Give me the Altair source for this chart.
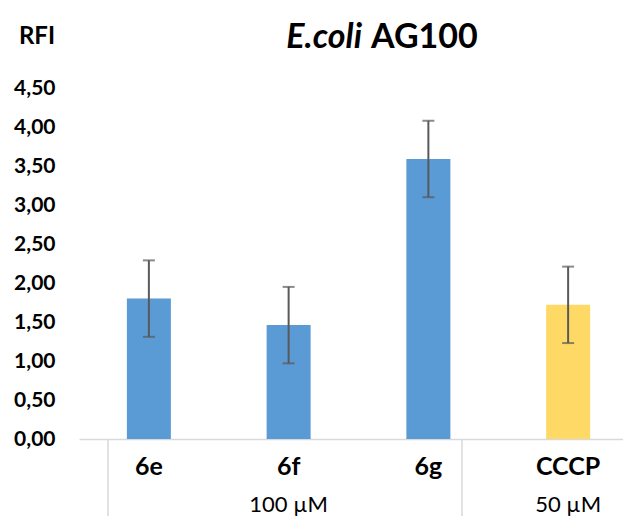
import altair as alt
import pandas as pd

categories = ["6e", "6f", "6g", "CCCP"]
means = [1.80, 1.46, 3.59, 1.72]
errors = [0.49, 0.49, 0.49, 0.49]
colors = ["#5B9BD5", "#5B9BD5", "#5B9BD5", "#FFD966"]
sub_labels = ["", "100 µM", "", "50 µM"]
y_ticks = [0, 0.5, 1.0, 1.5, 2.0, 2.5, 3.0, 3.5, 4.0, 4.5]

df = pd.DataFrame({
    "cat": categories,
    "mean": means,
    "lo": [m - e for m, e in zip(means, errors)],
    "hi": [m + e for m, e in zip(means, errors)],
    "color": colors,
    "sub": sub_labels,
})

FONT = "Lato"
W, H = 544, 351

xscale = alt.Scale(domain=categories, range=[0, 559], paddingInner=0, paddingOuter=0)
yscale = alt.Scale(domain=[0, 4.5], nice=False, zero=True)

x_enc = alt.X("cat:N", scale=xscale, sort=categories,
              axis=alt.Axis(title=None, labelAngle=0, ticks=False, domain=True,
                            domainColor="#d9d9d9", domainWidth=1.5,
                            labelFont=FONT, labelFontWeight="bold", labelFontSize=25,
                            labelColor="#000000", labelPadding=15))

base = alt.Chart(df)

bars = base.mark_bar(size=44).encode(
    x=x_enc,
    y=alt.Y("mean:Q", scale=yscale,
            axis=alt.Axis(title=None, values=y_ticks, grid=False, ticks=False, domain=False,
                          labelOverlap=False,
                          labelExpr="replace(format(datum.value, '.2f'), '.', ',')",
                          labelFont=FONT, labelFontWeight="bold", labelFontSize=21,
                          labelColor="#000000", labelPadding=24)),
    color=alt.Color("color:N", scale=None),
)

xn = alt.X("cat:N", scale=xscale, sort=categories, axis=None)

err = base.mark_rule(color="#595959", strokeWidth=2).encode(
    x=xn,
    y=alt.Y("lo:Q", scale=yscale, axis=None),
    y2="hi:Q",
)
cap_lo = base.mark_tick(color="#595959", size=12, thickness=2).encode(
    x=xn,
    y=alt.Y("lo:Q", scale=yscale, axis=None),
)
cap_hi = base.mark_tick(color="#595959", size=12, thickness=2).encode(
    x=xn,
    y=alt.Y("hi:Q", scale=yscale, axis=None),
)

subs = base.mark_text(font=FONT, fontSize=22, color="#000000", baseline="middle").encode(
    x=xn,
    y=alt.value(H + 66),
    text="sub:N",
)

sep_df = pd.DataFrame({"k": ["a"]})
sep1 = alt.Chart(sep_df).mark_rule(color="#d9d9d9", strokeWidth=1.5).encode(
    x=alt.value(29), y=alt.value(H), y2=alt.value(H + 78))
sep2 = alt.Chart(sep_df).mark_rule(color="#d9d9d9", strokeWidth=1.5).encode(
    x=alt.value(383), y=alt.value(H), y2=alt.value(H + 78))

ylab = alt.Chart(sep_df).mark_text(text="RFI", font=FONT, fontWeight="bold", fontSize=24,
                                   color="#000000", baseline="middle", align="center").encode(
    x=alt.value(-42), y=alt.value(-51))

t1 = alt.Chart(sep_df).mark_text(text="E.coli", font=FONT, fontWeight="bold", fontStyle="italic",
                                 fontSize=34, color="#000000", baseline="middle", align="right").encode(
    x=alt.value(283), y=alt.value(-50))
t2 = alt.Chart(sep_df).mark_text(text="AG100", font=FONT, fontWeight="bold",
                                 fontSize=34, color="#000000", baseline="middle", align="left").encode(
    x=alt.value(292), y=alt.value(-50))

chart = alt.layer(bars, err, cap_lo, cap_hi, subs, sep1, sep2, ylab, t1, t2).properties(
    width=W, height=H,
    autosize=alt.AutoSizeParams(type="none"),
    padding={"left": 71, "top": 80, "right": 0, "bottom": 77},
).resolve_axis(x="independent", y="independent").configure_view(stroke=None).configure_axis(labelOverlap=False)

chart.save("out.html", embed_options={"renderer": "svg", "actions": False})
